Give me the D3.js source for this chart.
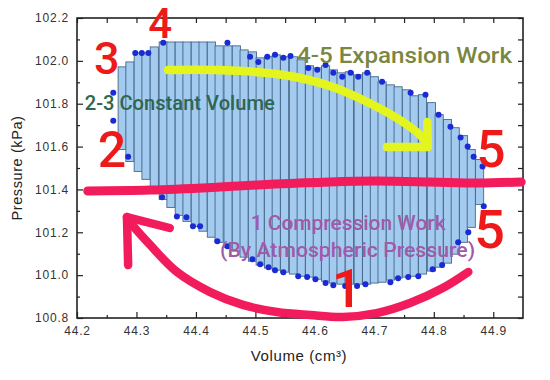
<!DOCTYPE html>
<html>
<head>
<meta charset="utf-8">
<title>Pressure - Volume Loop</title>
<script src="https://d3js.org/d3.v7.min.js"></script>
<style>
  body { margin: 0; background: #fff; }
  svg { display: block; font-family: "Liberation Sans", Arial, sans-serif; }
  .note { font-family: Roboto, sans-serif; }
</style>
</head>
<body>
<div id="chart"></div>
<script>
// bar centres (cm3) and the pressure at the top / bottom of each bar (kPa)
const volumes = [44.276, 44.289, 44.303, 44.316, 44.330, 44.345, 44.358, 44.372, 44.385, 44.399,
  44.412, 44.426, 44.439, 44.454, 44.468, 44.481, 44.495, 44.508, 44.522, 44.535,
  44.549, 44.564, 44.577, 44.591, 44.604, 44.618, 44.631, 44.644, 44.658, 44.673,
  44.687, 44.700, 44.713, 44.727, 44.740, 44.754, 44.767, 44.781, 44.796, 44.809,
  44.823, 44.836, 44.850, 44.863, 44.877];
const upperP = [101.972, 101.995, 102.037, 102.037, 102.065, 102.088, 102.088, 102.088, 102.088, 102.088,
  102.088, 102.088, 102.070, 102.070, 102.070, 102.051, 102.042, 102.014, 102.019, 102.028,
  102.019, 102.019, 102.005, 101.977, 101.967, 101.977, 101.958, 101.944, 101.949, 101.935,
  101.944, 101.926, 101.902, 101.888, 101.879, 101.865, 101.837, 101.842, 101.805, 101.749,
  101.726, 101.688, 101.651, 101.586, 101.540];
const lowerP = [101.586, 101.530, 101.484, 101.447, 101.400, 101.353, 101.316, 101.279, 101.251, 101.228,
  101.205, 101.177, 101.153, 101.130, 101.112, 101.084, 101.065, 101.047, 101.033, 101.023,
  101.014, 101.005, 100.995, 100.991, 100.981, 100.972, 100.963, 100.958, 100.958, 100.958,
  100.958, 100.963, 100.967, 100.977, 100.986, 100.991, 100.995, 101.005, 101.019, 101.037,
  101.056, 101.098, 101.153, 101.223, 101.330];
const barWidth = 0.0137;

// measured points round the loop
const dotV = [44.261, 44.261, 44.286, 44.298, 44.309, 44.320, 44.345, 44.453, 44.491, 44.505,
  44.520, 44.533, 44.547, 44.559, 44.589, 44.604, 44.618, 44.631, 44.646, 44.660,
  44.673, 44.688, 44.713, 44.761, 44.786, 44.808, 44.828, 44.845, 44.857, 44.867,
  44.882, 44.884, 44.858, 44.841, 44.814, 44.798, 44.774, 44.757, 44.740, 44.727,
  44.685, 44.671, 44.651, 44.631, 44.618, 44.601, 44.587, 44.572, 44.547, 44.533,
  44.522, 44.508, 44.495, 44.453, 44.436, 44.407, 44.395, 44.384, 44.368, 44.343];
const dotP = [101.851, 101.721, 101.553, 102.037, 102.037, 102.037, 102.084, 102.084, 102.019, 101.995,
  102.019, 102.028, 102.014, 102.023, 101.967, 101.958, 101.981, 101.944, 101.926, 101.944,
  101.926, 101.944, 101.902, 101.851, 101.842, 101.749, 101.693, 101.642, 101.600, 101.553,
  101.507, 101.321, 101.200, 101.153, 101.047, 101.028, 100.995, 100.991, 100.986, 100.967,
  100.958, 100.949, 100.949, 100.953, 100.963, 100.981, 100.991, 100.995, 101.014, 101.023,
  101.037, 101.051, 101.074, 101.135, 101.158, 101.228, 101.228, 101.270, 101.274, 101.363];

const xTicks = [44.2, 44.3, 44.4, 44.5, 44.6, 44.7, 44.8, 44.9];
const xMinor = [44.25, 44.35, 44.45, 44.55, 44.65, 44.75, 44.85];
const yTicks = [100.8, 101.0, 101.2, 101.4, 101.6, 101.8, 102.0, 102.2];
const yMinor = [100.9, 101.1, 101.3, 101.5, 101.7, 101.9, 102.1];

// hand drawn notes, in chart units
const redLine = [[44.218, 101.393], [44.323, 101.397], [44.440, 101.411], [44.533, 101.425], [44.625, 101.435],
  [44.701, 101.439], [44.794, 101.435], [44.873, 101.430], [44.947, 101.435]];
const redArrow = [[44.858, 101.015], [44.815, 100.940], [44.760, 100.870], [44.704, 100.823], [44.647, 100.805],
  [44.592, 100.814], [44.536, 100.828], [44.479, 100.861], [44.424, 100.921], [44.368, 101.015],
  [44.323, 101.141], [44.289, 101.248], [44.284, 101.271]];
const redHead = [[44.286, 101.047], [44.284, 101.271], [44.356, 101.220]];
const yellowArrow = [[44.353, 101.957], [44.435, 101.957], [44.520, 101.943], [44.575, 101.920], [44.630, 101.878],
  [44.688, 101.808], [44.743, 101.724], [44.777, 101.654], [44.789, 101.617]];
const yellowHead = [[44.789, 101.715], [44.790, 101.598], [44.721, 101.598]];
const numbers = [
  { t: "4", v: 44.340, p: 102.107, s: 42 },
  { t: "3", v: 44.250, p: 101.939, s: 45 },
  { t: "2", v: 44.259, p: 101.505, s: 50 },
  { t: "5", v: 44.896, p: 101.505, s: 51 },
  { t: "5", v: 44.894, p: 101.127, s: 54 },
  { t: "1", v: 44.654, p: 100.851, s: 54 }
];
const notes = [
  { t: "4-5 Expansion Work", v: 44.570, p: 101.990, s: 22, len: 215, c: "#7a8743", a: "start" },
  { t: "2-3 Constant Volume", v: 44.213, p: 101.771, s: 19.5, len: 190, c: "#2f6650", a: "start" },
  { t: "1 Compression Work", v: 44.656, p: 101.211, s: 21, len: 195, c: "#a05aa8", a: "middle" },
  { t: "(By Atmospheric Pressure)", v: 44.655, p: 101.085, s: 21, len: 255, c: "#a05aa8", a: "middle" }
];

const width = 550, height = 380;
const margin = { top: 18, right: 27, bottom: 62, left: 77 };

const svg = d3.select("#chart").append("svg")
  .attr("width", width)
  .attr("height", height);

const x = d3.scaleLinear().domain([44.2, 44.95]).range([margin.left, width - margin.right]);
const y = d3.scaleLinear().domain([100.8, 102.2]).range([height - margin.bottom, margin.top]);

// bars
svg.selectAll(".bar")
  .data(volumes)
  .enter()
  .append("rect")
  .attr("class", "bar")
  .attr("x", d => x(d - barWidth / 2))
  .attr("width", x(44.2 + barWidth) - x(44.2))
  .attr("y", (d, i) => y(upperP[i]))
  .attr("height", (d, i) => y(lowerP[i]) - y(upperP[i]))
  .attr("fill", "#a3cbf0")
  .attr("stroke", "#47688a")
  .attr("stroke-width", 0.9);

// dots
svg.selectAll(".dot")
  .data(dotV)
  .enter()
  .append("circle")
  .attr("class", "dot")
  .attr("cx", d => x(d))
  .attr("cy", (d, i) => y(dotP[i]))
  .attr("r", 3)
  .attr("fill", "#1a2ad4");

// axes
const fmt = d3.format(".1f");
const axisStyle = g => {
  g.select(".domain").remove();
  g.selectAll("line").attr("stroke", "#222").attr("stroke-width", 1.2);
  g.selectAll("text").attr("fill", "#333").attr("font-size", 12).attr("letter-spacing", 0.8);
};

svg.append("g")
  .attr("transform", `translate(0,${y(100.8)})`)
  .call(d3.axisBottom(x).tickValues(xTicks).tickFormat(fmt).tickSize(-6).tickPadding(8))
  .call(axisStyle);
svg.append("g")
  .attr("transform", `translate(0,${y(100.8)})`)
  .call(d3.axisBottom(x).tickValues(xMinor).tickFormat("").tickSize(-3))
  .call(axisStyle);
svg.append("g")
  .attr("transform", `translate(${x(44.2)},0)`)
  .call(d3.axisLeft(y).tickValues(yTicks).tickFormat(fmt).tickSize(-6).tickPadding(8))
  .call(axisStyle);
svg.append("g")
  .attr("transform", `translate(${x(44.2)},0)`)
  .call(d3.axisLeft(y).tickValues(yMinor).tickFormat("").tickSize(-3))
  .call(axisStyle);
svg.append("g")
  .attr("transform", `translate(0,${y(102.2)})`)
  .call(d3.axisTop(x).tickValues(xTicks.concat(xMinor)).tickFormat("").tickSize(-5))
  .call(axisStyle);
svg.append("g")
  .attr("transform", `translate(${x(44.95)},0)`)
  .call(d3.axisRight(y).tickValues(yTicks.concat(yMinor)).tickFormat("").tickSize(-5))
  .call(axisStyle);

svg.append("rect")
  .attr("x", x(44.2))
  .attr("y", y(102.2))
  .attr("width", x(44.95) - x(44.2))
  .attr("height", y(100.8) - y(102.2))
  .attr("fill", "none")
  .attr("stroke", "#222")
  .attr("stroke-width", 1.6);

svg.append("text")
  .attr("x", 299)
  .attr("y", 361)
  .attr("text-anchor", "middle")
  .attr("font-size", 15)
  .attr("letter-spacing", 0.6)
  .attr("fill", "#222")
  .text("Volume (cm³)");

svg.append("text")
  .attr("transform", `translate(22,${(y(100.8) + y(102.2)) / 2}) rotate(-90)`)
  .attr("text-anchor", "middle")
  .attr("font-size", 14.5)
  .attr("letter-spacing", 0.6)
  .attr("fill", "#222")
  .text("Pressure (kPa)");

// notes drawn on top
const line = d3.line().x(d => x(d[0])).y(d => y(d[1])).curve(d3.curveCatmullRom);
const straight = d3.line().x(d => x(d[0])).y(d => y(d[1]));

svg.append("path").attr("d", line(redLine))
  .attr("fill", "none").attr("stroke", "#f21c5c").attr("stroke-width", 9).attr("stroke-linecap", "round");

svg.selectAll(".label")
  .data(notes)
  .enter()
  .append("text")
  .attr("class", "note label")
  .attr("x", d => x(d.v))
  .attr("y", d => y(d.p))
  .attr("text-anchor", d => d.a)
  .attr("font-size", d => d.s)
  .attr("font-weight", 500)
  .attr("textLength", d => d.len)
  .attr("lengthAdjust", "spacingAndGlyphs")
  .attr("fill", d => d.c)
  .text(d => d.t);

svg.append("path").attr("d", line(yellowArrow))
  .attr("fill", "none").attr("stroke", "#e3f41e").attr("stroke-width", 8.5).attr("stroke-linecap", "round");
svg.append("path").attr("d", straight(yellowHead))
  .attr("fill", "none").attr("stroke", "#e3f41e").attr("stroke-width", 8.5)
  .attr("stroke-linecap", "round").attr("stroke-linejoin", "round");

svg.append("path").attr("d", line(redArrow))
  .attr("fill", "none").attr("stroke", "#f21c5c").attr("stroke-width", 8.5).attr("stroke-linecap", "round");
svg.append("path").attr("d", straight(redHead))
  .attr("fill", "none").attr("stroke", "#f21c5c").attr("stroke-width", 8.5)
  .attr("stroke-linecap", "round").attr("stroke-linejoin", "round");

svg.selectAll(".num")
  .data(numbers)
  .enter()
  .append("text")
  .attr("class", "note num")
  .attr("x", d => x(d.v))
  .attr("y", d => y(d.p))
  .attr("text-anchor", "middle")
  .attr("font-size", d => d.s)
  .attr("font-weight", 500)
  .attr("fill", "#ee1a1a")
  .text(d => d.t);
</script>
</body>
</html>
